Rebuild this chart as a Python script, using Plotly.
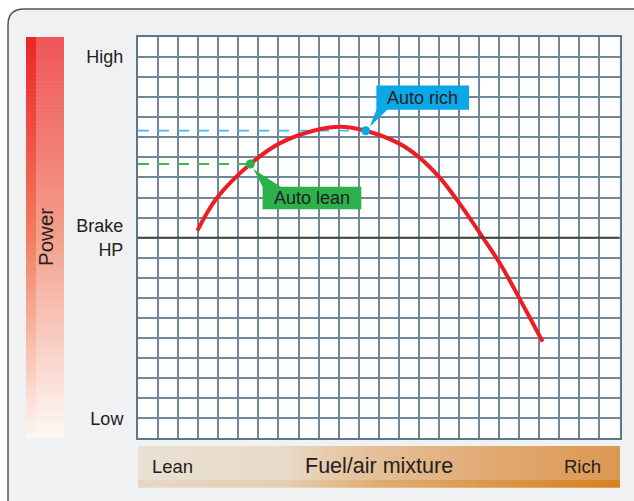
import plotly.graph_objects as go

W, H = 634, 501

# Fuel/air mixture (grid columns, lean -> rich) vs. power (grid rows, low -> high)
mixture = [2.96, 3.92, 5.60, 7.08, 8.74, 10.07, 11.35, 12.98, 13.97, 15.05, 15.90, 17.21, 18.05, 19.04, 20.17]
power = [10.35, 11.96, 13.67, 14.71, 15.33, 15.53, 15.33, 14.71, 14.04, 12.98, 11.88, 9.97, 8.70, 6.92, 4.82]

auto_lean = (5.60, 13.67)
auto_rich = (11.35, 15.33)
brake_hp = 10

y_tick_vals = [1, 10, 19]
y_tick_text = ["Low", "Brake<br>HP", "High"]

FONT = "Liberation Sans, Arial, Helvetica, sans-serif"
TXT = "#242122"


def px(x):
    return x / W


def py(y):
    return 1 - y / H


def lerp(stops, t):
    for (t0, c0), (t1, c1) in zip(stops, stops[1:]):
        if t <= t1:
            f = 0 if t1 == t0 else (t - t0) / (t1 - t0)
            c = [round(a + (b - a) * f) for a, b in zip(c0, c1)]
            return "rgb(%d,%d,%d)" % tuple(c)
    return "rgb(%d,%d,%d)" % tuple(stops[-1][1])


shapes = []

# outer rounded panel
r = 16
L, T, R, B = 8, 9, 660, 525
panel = (f"M {px(L)},{py(T + r)} Q {px(L)},{py(T)} {px(L + r)},{py(T)} "
         f"L {px(R)},{py(T)} L {px(R)},{py(B)} L {px(L + r)},{py(B)} "
         f"Q {px(L)},{py(B)} {px(L)},{py(B - r)} Z")
shapes.append(dict(type="path", path=panel, xref="paper", yref="paper", layer="below",
                   fillcolor="#f0f1f3", line=dict(color="#555555", width=1.5)))

# white plotting field
gx0, gx1, gy0, gy1 = 138, 619.5, 37, 438.3
shapes.append(dict(type="rect", xref="paper", yref="paper", layer="below",
                   x0=px(gx0), x1=px(gx1), y0=py(gy1), y1=py(gy0),
                   fillcolor="white", line=dict(width=0)))

# vertical "Power" gradient bar
main_stops = [(0, (239, 84, 88)), (0.5, (243, 160, 140)), (1, (254, 248, 245))]
strip_stops = [(0, (237, 35, 40)), (0.5, (242, 125, 95)), (1, (254, 246, 242))]
bx0, bxs, bx1, by0, by1 = 26, 36, 64, 37, 438.3
n = 100
for i in range(n):
    t = (i + 0.5) / n
    ya = by0 + (by1 - by0) * i / n
    yb = by0 + (by1 - by0) * (i + 1) / n + 0.6
    shapes.append(dict(type="rect", xref="paper", yref="paper", layer="below",
                       x0=px(bx0), x1=px(bxs), y0=py(min(yb, by1)), y1=py(ya),
                       fillcolor=lerp(strip_stops, t), line=dict(width=0)))
    shapes.append(dict(type="rect", xref="paper", yref="paper", layer="below",
                       x0=px(bxs), x1=px(bx1), y0=py(min(yb, by1)), y1=py(ya),
                       fillcolor=lerp(main_stops, t), line=dict(width=0)))

# horizontal "Fuel/air mixture" gradient bar
top_stops = [(0, (233, 224, 211)), (0.3, (232, 218, 199)), (0.45, (229, 196, 158)),
             (0.7, (225, 172, 118)), (1, (220, 152, 82))]
low_stops = [(0, (229, 216, 195)), (0.3, (228, 207, 180)), (0.5, (223, 172, 112)),
             (1, (214, 128, 32))]
hx0, hx1, hy0, hys, hy1 = 138, 620, 446, 480, 487.7
m = 120
for i in range(m):
    t = (i + 0.5) / m
    xa = hx0 + (hx1 - hx0) * i / m
    xb = hx0 + (hx1 - hx0) * (i + 1) / m + 0.6
    shapes.append(dict(type="rect", xref="paper", yref="paper", layer="below",
                       x0=px(xa), x1=px(min(xb, hx1)), y0=py(hys), y1=py(hy0),
                       fillcolor=lerp(top_stops, t), line=dict(width=0)))
    shapes.append(dict(type="rect", xref="paper", yref="paper", layer="below",
                       x0=px(xa), x1=px(min(xb, hx1)), y0=py(hy1), y1=py(hys),
                       fillcolor=lerp(low_stops, t), line=dict(width=0)))

# Brake HP reference line
shapes.append(dict(type="line", xref="x", yref="y", x0=0, x1=24, y0=brake_hp, y1=brake_hp,
                   line=dict(color="#3f3f3f", width=1.6), layer="above"))

# callout boxes with pointers
BLUE = "#0aa8e6"
GREEN = "#2bb04b"
rx0, rx1, ry0, ry1 = 11.88, 16.50, 16.37, 17.58
rich_path = (f"M {rx0},{ry0} L {rx0},{ry1} L {rx1},{ry1} L {rx1},{ry0} "
             f"L {rx0 + 0.55},{ry0} L {auto_rich[0] + 0.2},{auto_rich[1] + 0.2} Z")
shapes.append(dict(type="path", path=rich_path, xref="x", yref="y", layer="above",
                   fillcolor=BLUE, line=dict(width=0)))
lx0, lx1, ly0, ly1 = 6.21, 11.13, 11.42, 12.54
lean_path = (f"M {lx0},{ly1} L {lx0},{ly0} L {lx1},{ly0} L {lx1},{ly1} "
             f"L {lx0 + 0.9},{ly1} L {auto_lean[0] + 0.15},{auto_lean[1] - 0.25} Z")
shapes.append(dict(type="path", path=lean_path, xref="x", yref="y", layer="above",
                   fillcolor=GREEN, line=dict(width=0)))

fig = go.Figure()

# dashed guides from the power axis to each setting
fig.add_trace(go.Scatter(x=[0, auto_rich[0]], y=[auto_rich[1]] * 2, mode="lines",
                         line=dict(color="#45b9e8", width=1.8, dash="11px,9px"),
                         hoverinfo="skip"))
fig.add_trace(go.Scatter(x=[0, auto_lean[0]], y=[auto_lean[1]] * 2, mode="lines",
                         line=dict(color="#3cb85a", width=1.8, dash="11px,9px"),
                         hoverinfo="skip"))

# power curve
fig.add_trace(go.Scatter(x=mixture, y=power, mode="lines",
                         line=dict(color="#ee1c25", width=4, shape="spline", smoothing=1.0)))

# setting markers
fig.add_trace(go.Scatter(x=[auto_lean[0]], y=[auto_lean[1]], mode="markers",
                         marker=dict(color=GREEN, size=9)))
fig.add_trace(go.Scatter(x=[auto_rich[0]], y=[auto_rich[1]], mode="markers",
                         marker=dict(color=BLUE, size=9)))

annotations = [
    dict(x=(rx0 + rx1) / 2, y=(ry0 + ry1) / 2, xref="x", yref="y", text="Auto rich",
         xanchor="center", yanchor="middle",
         showarrow=False, font=dict(family=FONT, size=18, color=TXT)),
    dict(x=(lx0 + lx1) / 2, y=(ly0 + ly1) / 2, xref="x", yref="y", text="Auto lean",
         xanchor="center", yanchor="middle",
         showarrow=False, font=dict(family=FONT, size=18, color=TXT)),
    dict(x=px(45), y=py(237), xref="paper", yref="paper", text="Power", textangle=-90,
         xanchor="center", yanchor="middle",
         showarrow=False, font=dict(family=FONT, size=20.5, color=TXT)),
    dict(x=px(150), y=py(466), xref="paper", yref="paper", text="Lean",
         xanchor="left", yanchor="middle",
         showarrow=False, font=dict(family=FONT, size=18.5, color=TXT)),
    dict(x=px(379), y=py(466), xref="paper", yref="paper", text="Fuel/air mixture",
         xanchor="center", yanchor="middle",
         showarrow=False, font=dict(family=FONT, size=21.5, color=TXT)),
    dict(x=px(603), y=py(466), xref="paper", yref="paper", text="Rich",
         xanchor="right", yanchor="middle",
         showarrow=False, font=dict(family=FONT, size=18.5, color=TXT)),
]

GRID = "#6f8999"
fig.update_layout(
    width=W, height=H,
    margin=dict(l=0, r=0, t=0, b=0),
    paper_bgcolor="white",
    plot_bgcolor="rgba(0,0,0,0)",
    showlegend=False,
    shapes=shapes,
    annotations=annotations,
    xaxis=dict(domain=[px(gx0), px(gx1)], range=[0, 24], showticklabels=False, ticks="",
               tickmode="linear", tick0=0, dtick=1, showgrid=True, gridcolor=GRID, gridwidth=1.6,
               zeroline=False, showline=True, linecolor="#5a7888", linewidth=2, mirror=True,
               fixedrange=True),
    yaxis=dict(domain=[py(gy1), py(gy0)], range=[0, 20], tickmode="array",
               tickvals=y_tick_vals, ticktext=y_tick_text, ticks="", ticklabelstandoff=9,
               tickfont=dict(family=FONT, size=18, color=TXT), showgrid=False,
               minor=dict(tickmode="linear", tick0=0, dtick=1, showgrid=True,
                          gridcolor=GRID, gridwidth=1.6, ticks=""),
               zeroline=False, showline=True, linecolor="#5a7888", linewidth=2, mirror=True,
               fixedrange=True),
)

fig.write_html("out.html")
